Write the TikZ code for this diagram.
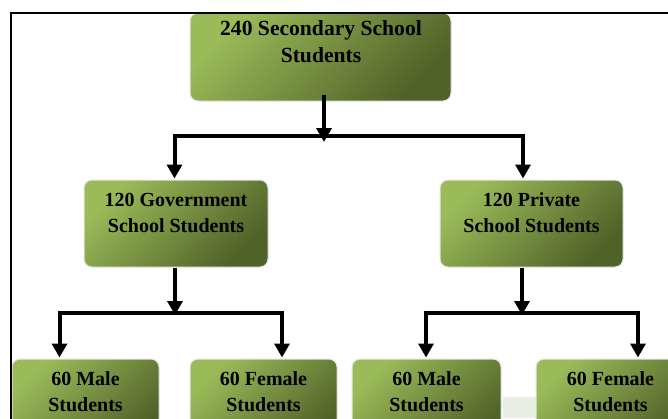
\documentclass[tikz,border=0pt]{standalone}
\usepackage{fontspec}
\setmainfont{Liberation Serif}
\usetikzlibrary{arrows.meta}
\definecolor{gl}{HTML}{9BBB59}
\definecolor{gd}{HTML}{4F6228}
\definecolor{pale}{HTML}{E9EFE0}
\tikzset{
  box/.style={rectangle, rounded corners=8pt, draw=black!10, line width=1pt,
    left color=gl, right color=gd, shading angle=45, inner sep=0pt},
  txt/.style={align=center, font=\fontsize{20}{26}\selectfont\bfseries, text=black, inner sep=0pt},
  bigtxt/.style={txt, font=\fontsize{21.6}{27}\selectfont\bfseries},
  arr/.style={line width=4pt, -{Triangle[width=15pt,length=14pt]}, shorten >=1pt},
}
\begin{document}
\begin{tikzpicture}[x=1pt,y=-1pt]
\useasboundingbox (0,0) rectangle (668,418);
\clip (0,0) rectangle (668,418);
\fill[white] (0,0) rectangle (668,418);
\fill[pale] (503,397) rectangle (536,418);
% boxes
\node[box, minimum width=261pt, minimum height=88pt] (top) at (320.5,57) {};
\node[box, minimum width=184pt, minimum height=87pt] (gov) at (176,223.5) {};
\node[box, minimum width=183pt, minimum height=87pt] (priv) at (531.5,223.5) {};
\node[box, minimum width=147pt, minimum height=87pt] (m1) at (85.5,402.5) {};
\node[box, minimum width=147pt, minimum height=87pt] (f1) at (263.5,402.5) {};
\node[box, minimum width=149pt, minimum height=87pt] (m2) at (426.5,402.5) {};
\node[box, minimum width=149pt, minimum height=87pt] (f2) at (610.5,402.5) {};
% texts
\node[bigtxt] (ttop) at (321,42) {240 Secondary School\\Students};
\node[txt] (tgov) at (176,213) {120 Government\\School Students};
\node[txt] (tpriv) at (531.5,213) {120 Private\\School Students};
\node[txt] (tm1) at (85.5,392) {60 Male\\Students};
\node[txt] (tf1) at (263.5,392) {60 Female\\Students};
\node[txt] (tm2) at (426.5,392) {60 Male\\Students};
\node[txt] (tf2) at (610.5,392) {60 Female\\Students};
% junctions
\coordinate (j1) at (324,136);
\coordinate (j2) at (175,313);
\coordinate (j3) at (522,313);
% connectors
\draw[arr] ([xshift=3.5pt,yshift=7pt]top.south) -- ([yshift=-7pt]j1);
\draw[arr] (j1) -| ([xshift=-1.5pt]gov.north);
\draw[arr] (j1) -| ([xshift=-8.5pt]priv.north);
\draw[arr] ([xshift=-1pt]gov.south) -- ([yshift=-3pt]j2);
\draw[arr] (j2) -| ([xshift=-26pt]m1.north);
\draw[arr] (j2) -| ([xshift=18.5pt]f1.north);
\draw[arr] ([xshift=-9.5pt]priv.south) -- ([yshift=-3pt]j3);
\draw[arr] (j3) -| ([xshift=-0.5pt]m2.north);
\draw[arr] (j3) -| ([xshift=27.5pt]f2.north);
% frame
\draw[line width=2.5pt] (11,420) -- (11,13) -- (670,13);
\end{tikzpicture}
\end{document}
